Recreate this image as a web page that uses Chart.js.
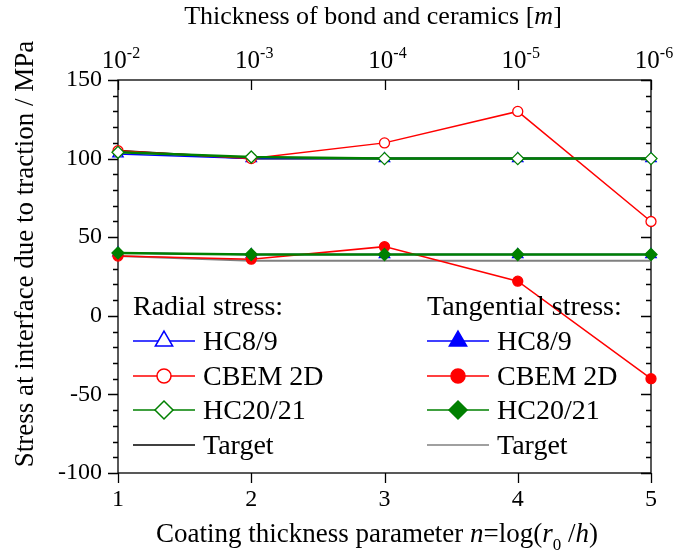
<!DOCTYPE html>
<html>
<head>
<meta charset="utf-8">
<script src="https://cdn.jsdelivr.net/npm/chart.js@4/dist/chart.umd.min.js"></script>
<style>
html, body { margin: 0; padding: 0; background: #fff; }
#wrap { width: 691px; height: 551px; }
</style>
</head>
<body>
<div id="wrap"><canvas id="chart" width="691" height="551"></canvas></div>
<script>
// coating thickness parameter n (bottom axis) and bond/ceramics thickness exponents (top axis)
const nValues = [1, 2, 3, 4, 5];
const topExponents = ['-2', '-3', '-4', '-5', '-6'];

// radial stress [MPa]
const radialHC89 = [103, 100, 100, 100, 100];
const radialCBEM = [105, 100, 110, 130, 60];
const radialHC2021 = [104, 101, 100, 100, 100];
const radialTarget = [105, 100, 100, 100, 100];

// tangential stress [MPa]
const tangHC89 = [40, 39, 39, 39, 39];
const tangCBEM = [38, 36, 44, 22, -40];
const tangHC2021 = [40, 39, 39, 39, 39];
const tangTarget = [38, 35, 35, 35, 35];

const SERIF = "'Liberation Serif', 'Times New Roman', serif";

function series(label, values, color, style, filled, order, width) {
    return {
        label: label,
        data: values.map((v, i) => ({ x: nValues[i], y: v })),
        borderColor: color,
        borderWidth: width || 1.5,
        pointStyle: style || false,
        pointRadius: style ? (style === 'circle' ? 5 : 6) : 0,
        pointBorderWidth: 1.3,
        pointBorderColor: color,
        pointBackgroundColor: filled ? color : '#fff',
        legendRadius: style === 'triangle' ? 10 : (style === 'circle' ? 7 : 9),
        tension: 0,
        clip: false,
        order: order
    };
}

const datasets = [
    series('HC8/9', radialHC89, '#0000ff', 'triangle', false, 3),
    series('CBEM 2D', radialCBEM, '#ff0000', 'circle', false, 2),
    series('HC20/21', radialHC2021, '#008000', 'rectRot', false, 1, 2.5),
    series('Target', radialTarget, '#000000', null, false, 5, 2),
    series('HC8/9', tangHC89, '#0000ff', 'triangle', true, 3),
    series('CBEM 2D', tangCBEM, '#ff0000', 'circle', true, 2),
    series('HC20/21', tangHC2021, '#008000', 'rectRot', true, 1, 2.5),
    series('Target', tangTarget, '#808080', null, false, 5, 2)
];

// text made of several runs: [text, 'n' | 'i' | 'sub' | 'sup']
function drawRuns(ctx, runs, x, y, size) {
    const fontOf = s => (s === 'i' ? 'italic ' : '') + Math.round(s === 'sub' || s === 'sup' ? size * 0.62 : size) + 'px ' + SERIF;
    let total = 0;
    runs.forEach(r => { ctx.font = fontOf(r[1]); total += ctx.measureText(r[0]).width; });
    let cx = x - total / 2;
    ctx.textAlign = 'left';
    ctx.textBaseline = 'alphabetic';
    runs.forEach(r => {
        ctx.font = fontOf(r[1]);
        const dy = r[1] === 'sub' ? size * 0.3 : (r[1] === 'sup' ? -size * 0.42 : 0);
        ctx.fillText(r[0], cx, y + dy);
        cx += ctx.measureText(r[0]).width;
    });
}

function drawMarker(ctx, style, x, y, r, fill, stroke) {
    ctx.beginPath();
    if (style === 'circle') {
        ctx.arc(x, y, r, 0, Math.PI * 2);
    } else if (style === 'triangle') {
        ctx.moveTo(x, y - r);
        ctx.lineTo(x + r * 0.866, y + r * 0.5);
        ctx.lineTo(x - r * 0.866, y + r * 0.5);
        ctx.closePath();
    } else if (style === 'rectRot') {
        ctx.moveTo(x - r, y);
        ctx.lineTo(x, y - r);
        ctx.lineTo(x + r, y);
        ctx.lineTo(x, y + r);
        ctx.closePath();
    }
    ctx.fillStyle = fill;
    ctx.fill();
    ctx.strokeStyle = stroke;
    ctx.lineWidth = 1.5;
    ctx.stroke();
}

const framePlugin = {
    id: 'frame',
    beforeDatasetsDraw(chart) {
        const ctx = chart.ctx;
        const a = chart.chartArea;
        const xs = chart.scales.x, ys = chart.scales.y;
        ctx.save();
        ctx.strokeStyle = '#000';
        ctx.lineWidth = 1.3;
        ctx.strokeRect(a.left, a.top, a.right - a.left, a.bottom - a.top);
        ctx.beginPath();
        // y ticks: outward on the left, inward on the right
        for (let v = -100; v <= 150; v += 10) {
            const py = Math.round(ys.getPixelForValue(v)) + 0.5;
            const len = v % 50 === 0 ? 10 : 5;
            ctx.moveTo(a.left - len, py); ctx.lineTo(a.left, py);
            ctx.moveTo(a.right - len, py); ctx.lineTo(a.right, py);
        }
        // x ticks: outward at the bottom, inward at the top
        nValues.forEach(n => {
            const px = Math.round(xs.getPixelForValue(n)) + 0.5;
            ctx.moveTo(px, a.bottom); ctx.lineTo(px, a.bottom + 10);
            ctx.moveTo(px, a.top); ctx.lineTo(px, a.top + 10);
        });
        ctx.stroke();
        ctx.restore();
    },
    afterDraw(chart) {
        const ctx = chart.ctx;
        const xs = chart.scales.x;
        ctx.save();
        ctx.fillStyle = '#000';
        // top tick labels 10^-k
        nValues.forEach((n, i) => {
            drawRuns(ctx, [['10', 'n'], [topExponents[i], 'sup']], xs.getPixelForValue(n) + 3, 68, 25);
        });
        // axis titles
        drawRuns(ctx, [['Thickness of bond and ceramics [', 'n'], ['m', 'i'], [']', 'n']], 373, 24, 26);
        drawRuns(ctx, [['Coating thickness parameter ', 'n'], ['n', 'i'], ['=log(', 'n'], ['r', 'i'],
            ['0', 'sub'], [' /', 'n'], ['h', 'i'], [')', 'n']], 377, 542, 27);
        ctx.translate(33, 254);
        ctx.rotate(-Math.PI / 2);
        drawRuns(ctx, [['Stress at interface due to traction / MPa', 'n']], 0, 0, 27);
        ctx.restore();

        // legend: two columns with headings
        ctx.save();
        ctx.font = '28px ' + SERIF;
        ctx.textAlign = 'left';
        ctx.textBaseline = 'alphabetic';
        ctx.fillStyle = '#000';
        const cols = [133, 427];
        ctx.fillText('Radial stress:', cols[0], 315);
        ctx.fillText('Tangential stress:', cols[1], 315);
        const rows = [341, 376, 410, 445];
        chart.data.datasets.forEach((ds, i) => {
            const x0 = cols[Math.floor(i / 4)];
            const y = rows[i % 4];
            ctx.beginPath();
            ctx.strokeStyle = ds.borderColor;
            ctx.lineWidth = 1.5;
            ctx.moveTo(x0, y); ctx.lineTo(x0 + 62, y);
            ctx.stroke();
            if (ds.pointStyle) {
                drawMarker(ctx, ds.pointStyle, x0 + 31, y, ds.legendRadius, ds.pointBackgroundColor, ds.borderColor);
            }
            ctx.fillStyle = '#000';
            ctx.fillText(ds.label, x0 + 70, y + 9);
        });
        ctx.restore();
    }
};

new Chart(document.getElementById('chart'), {
    type: 'line',
    data: { datasets: datasets },
    options: {
        responsive: false,
        devicePixelRatio: 1,
        animation: false,
        layout: { padding: { left: 0, right: 40, top: 0, bottom: 0 } },
        plugins: { legend: { display: false }, tooltip: { enabled: false } },
        scales: {
            x: {
                type: 'linear', position: 'bottom', min: 1, max: 5,
                ticks: { stepSize: 1, color: '#000', padding: 12, font: { family: SERIF, size: 24 } },
                grid: { display: false, drawTicks: false },
                border: { display: false },
                afterFit(s) { s.height = 78; }
            },
            x2: {
                type: 'linear', axis: 'x', position: 'top', min: 1, max: 5,
                ticks: { display: false },
                grid: { display: false, drawTicks: false },
                border: { display: false },
                afterFit(s) { s.height = 80; }
            },
            y: {
                min: -100, max: 150,
                ticks: { stepSize: 50, color: '#000', padding: 16, font: { family: SERIF, size: 24 } },
                grid: { display: false, drawTicks: false },
                border: { display: false },
                afterFit(s) { s.width = 118; }
            }
        }
    },
    plugins: [framePlugin]
});
</script>
</body>
</html>
